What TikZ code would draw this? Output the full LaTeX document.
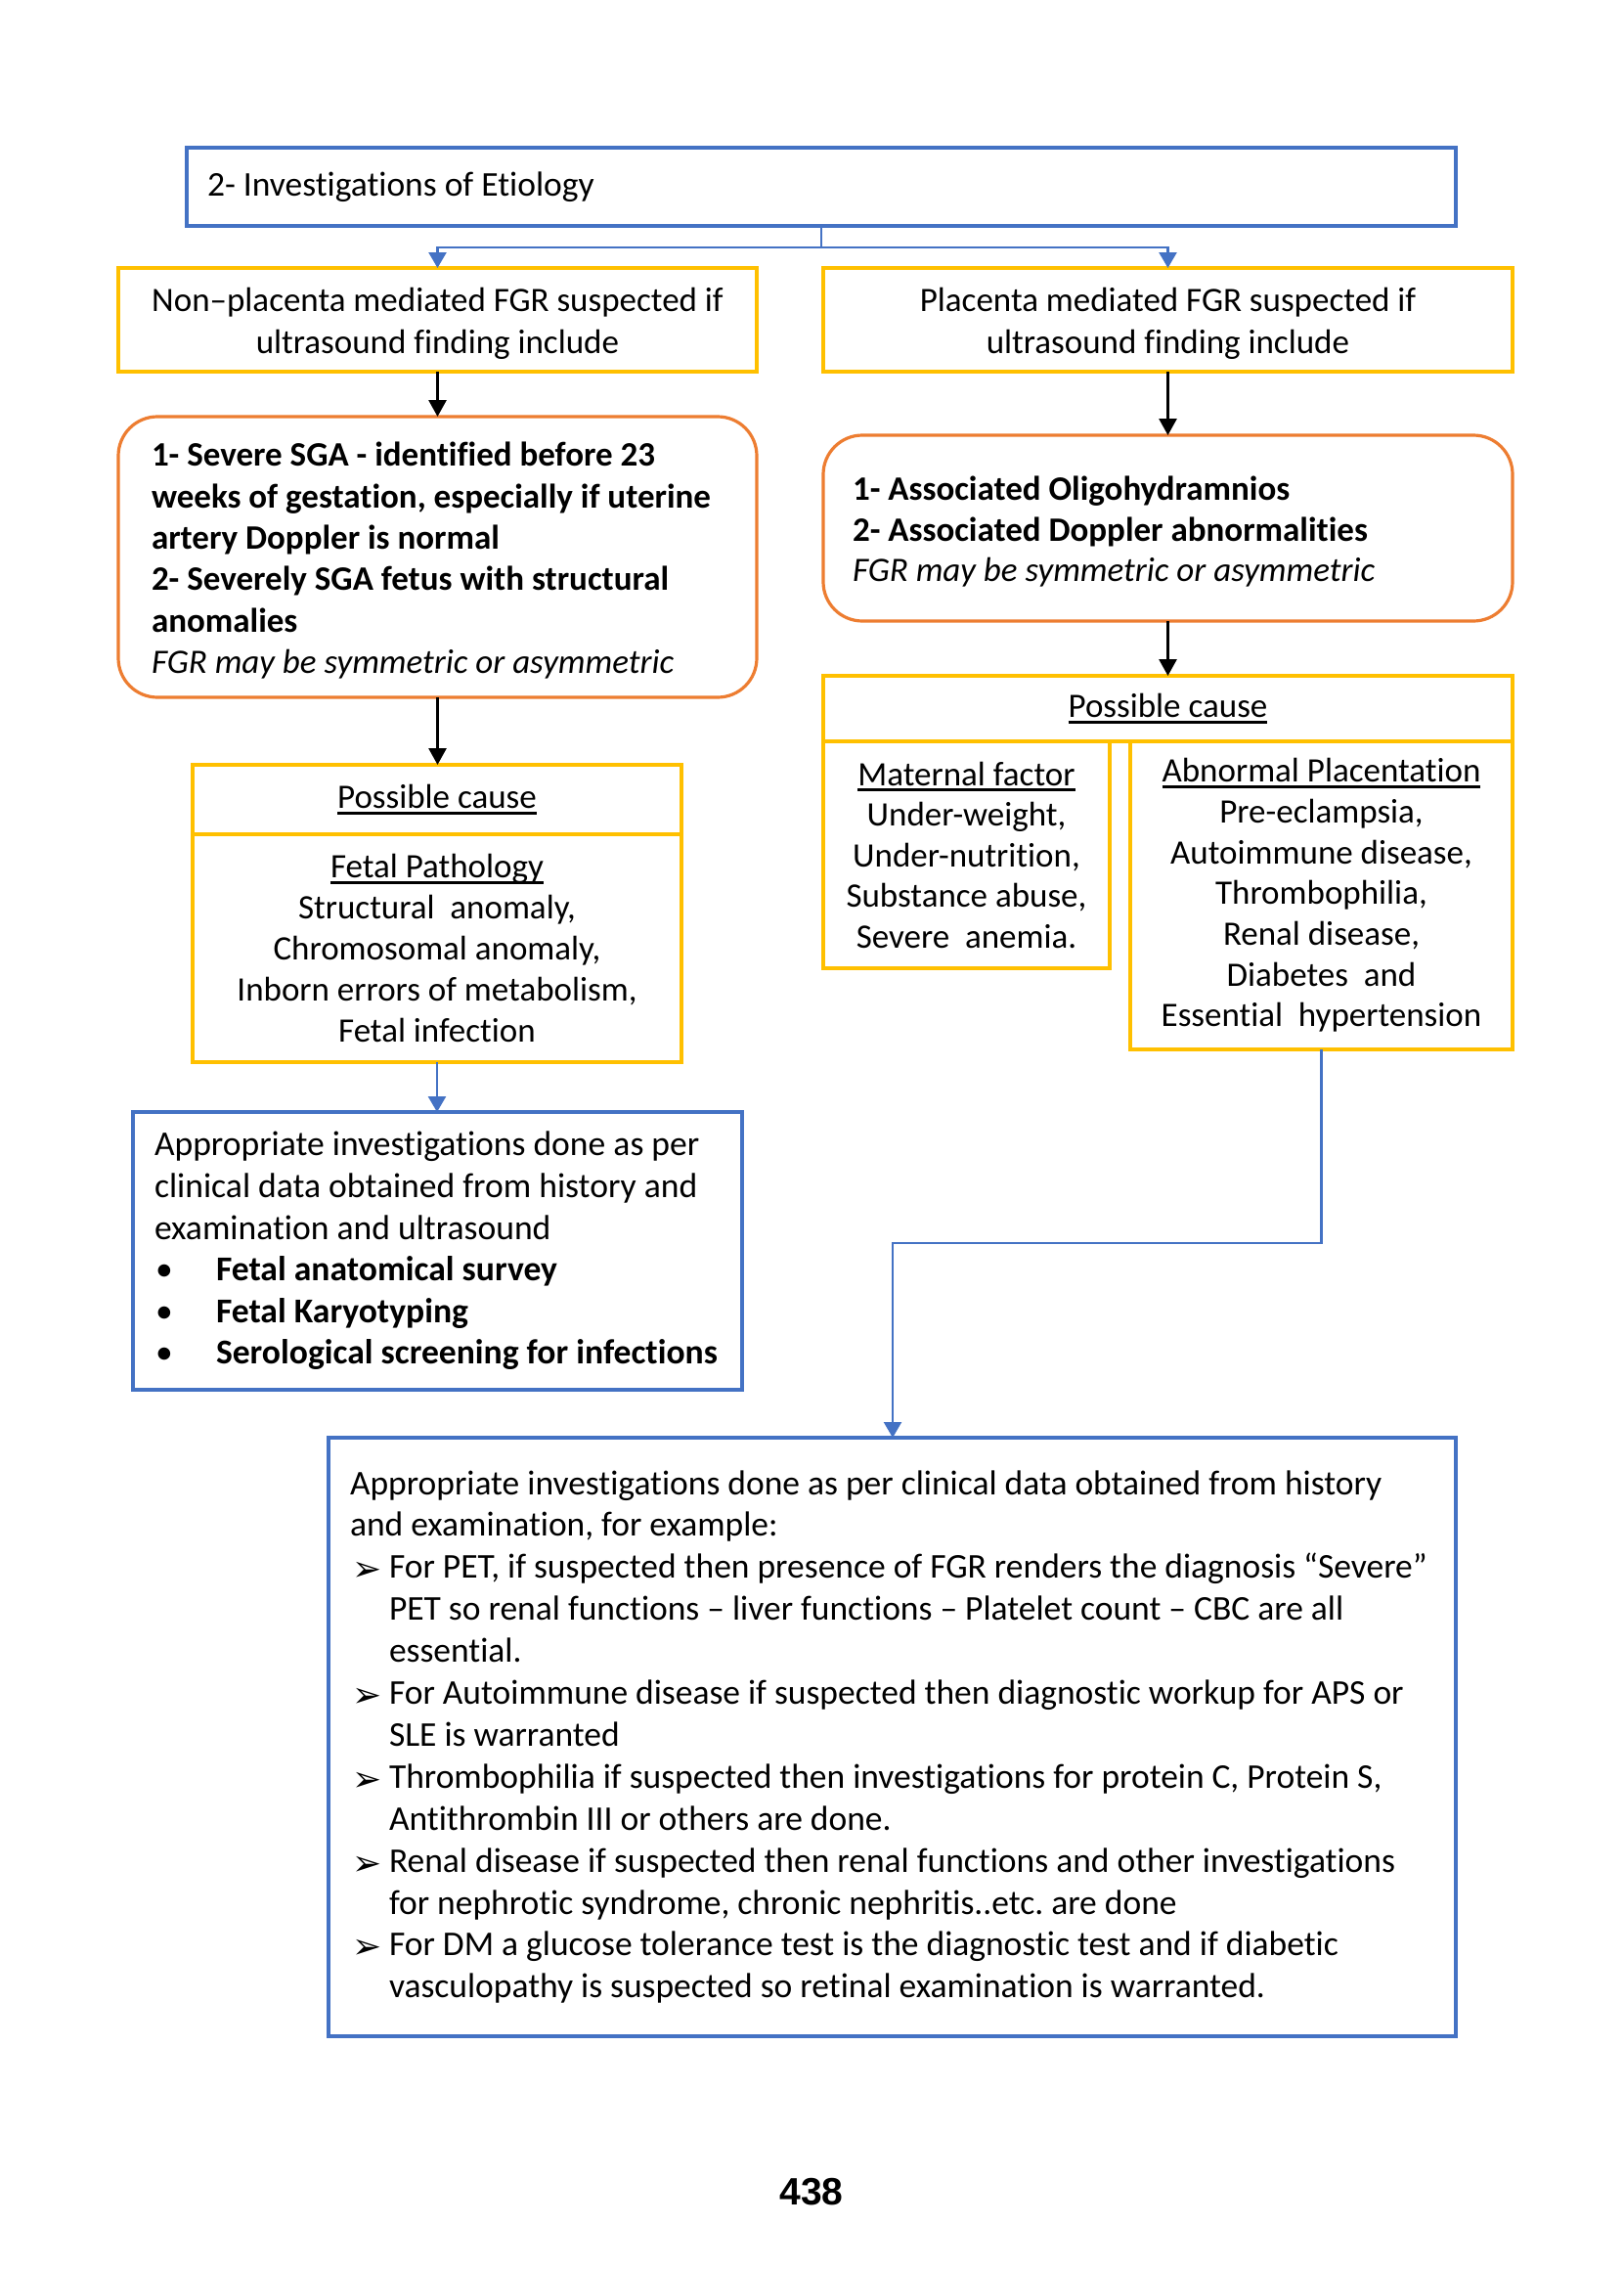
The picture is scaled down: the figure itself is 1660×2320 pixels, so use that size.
\documentclass[tikz,border=0pt]{standalone}
\usepackage{fontspec}
\setmainfont{Carlito}[Ligatures=CommonOff]
\newfontfamily\dejavu{DejaVu Sans}
\newfontfamily\arialf{Liberation Sans}
\usetikzlibrary{arrows.meta}
\definecolor{cblue}{HTML}{4472C4}
\definecolor{cgold}{HTML}{FFC000}
\definecolor{corange}{HTML}{ED7D31}
\frenchspacing
\newcommand\ulx[1]{\setbox0=\hbox{#1}\leavevmode\rlap{\rule[-6pt]{\wd0}{2.6pt}}\box0}
\newcommand\arr{\makebox[40pt][l]{\hspace*{2pt}\raisebox{-3pt}{\dejavu\fontsize{36}{36}\selectfont ➢}}}
\newcommand\ind{\hspace*{40pt}}
\newcommand\bul{\makebox[63pt][l]{\hspace*{1pt}•}}
\newcommand\dn{\rule{0pt}{32pt}}
\newcommand\ns{\spaceskip=0pt\xspaceskip=0pt\relax}
\tikzset{
  base/.style={font=\fontsize{35}{42.7}\selectfont, inner ysep=0pt, outer sep=0pt, rectangle},
  bluebox/.style={base, draw=cblue, line width=3.2pt},
  goldbox/.style={base, draw=cgold, line width=3.2pt},
  orangebox/.style={base, draw=corange, line width=3.2pt, rounded corners=40pt},
  bconn/.style={draw=cblue, line width=2.5pt, -{Triangle[length=16pt,width=18pt]}},
  kconn/.style={draw=black, line width=2.8pt, -{Triangle[length=17pt,width=18pt]}},
}
\begin{document}
\begin{tikzpicture}[x=1pt,y=-1pt]
\fill[white] (0,0) rectangle (1660,2320);
\useasboundingbox (0,0) rectangle (1660,2320);

% top box
\node[bluebox, align=left, text width=1256pt, inner xsep=21pt, minimum width=1298pt, minimum height=80pt, font=\fontsize{35.5}{43}\selectfont] (top) at (840,191) {\ns\mbox{2- Investigations of Etiology}};

% second row
\node[goldbox, align=center, inner xsep=10pt, minimum width=653pt, minimum height=106pt] (ly) at (447.5,327)
 {\dn Non–placenta mediated FGR suspected if\\ultrasound finding include};
\node[goldbox, align=center, inner xsep=10pt, minimum width=705pt, minimum height=106pt] (ry) at (1194.5,327)
 {\dn Placenta mediated FGR suspected if\\ultrasound finding include};

% orange boxes
\node[orangebox, align=left, text width=585pt, inner xsep=34pt, minimum width=653pt, minimum height=287pt, font=\fontsize{35}{42.4}\selectfont] (lo) at (447.5,569.5)
 {\ns\mbox{\dn\textbf{1- Severe SGA - identified before 23}}\\
  \mbox{\textbf{weeks of gestation, especially if uterine}}\\
  \mbox{\textbf{artery Doppler is normal}}\\
  \mbox{\textbf{2- Severely SGA fetus with structural}}\\
  \mbox{\textbf{anomalies}}\\
  \mbox{\textit{FGR may be symmetric or asymmetric}}};
\node[orangebox, align=left, text width=645pt, inner xsep=30pt, minimum width=705pt, minimum height=190pt, font=\fontsize{35}{41.5}\selectfont] (ro) at (1194.5,540)
 {\ns\mbox{\dn\textbf{1- Associated Oligohydramnios}}\\
  \mbox{\textbf{2- Associated Doppler abnormalities}}\\
  \mbox{\textit{FGR may be symmetric or asymmetric}}};

% left possible cause
\node[goldbox, align=center, inner xsep=8pt, minimum width=500pt, minimum height=71pt] (lch) at (447,817.5) {\ulx{Possible cause}};
\node[goldbox, align=center, inner xsep=8pt, minimum width=500pt, minimum height=233pt, font=\fontsize{35}{42}\selectfont] (lcb) at (447,969.5)
 {\ulx{Fetal Pathology}\\Structural\ \ anomaly,\\Chromosomal anomaly,\\Inborn errors of metabolism,\\Fetal infection};

% right possible cause
\node[goldbox, align=center, inner xsep=8pt, minimum width=705pt, minimum height=67pt] (rch) at (1194.5,724.5) {\ulx{Possible cause}};
\node[goldbox, align=center, inner xsep=4pt, minimum width=293pt, minimum height=232pt, font=\fontsize{35}{41.5}\selectfont] (mat) at (988.5,874)
 {\ulx{Maternal factor}\\Under-weight,\\Under-nutrition,\\Substance abuse,\\Severe\ \ anemia.};
\node[goldbox, align=center, inner xsep=4pt, minimum width=391pt, minimum height=315pt, font=\fontsize{35}{41.7}\selectfont] (abn) at (1351.5,915.5)
 {\ulx{Abnormal Placentation}\\Pre-eclampsia,\\Autoimmune disease,\\Thrombophilia,\\Renal disease,\\Diabetes\ \ and\\Essential\ \ hypertension};

% left blue box
\node[bluebox, align=left, text width=579pt, inner xsep=22pt, minimum width=623pt, minimum height=284pt, font=\fontsize{35.6}{42.6}\selectfont] (lbl) at (447.5,1279)
 {\ns\mbox{Appropriate investigations done as per}\\
  \mbox{clinical data obtained from history and}\\
  \mbox{examination and ultrasound}\\
  \mbox{\bul\textbf{Fetal anatomical survey}}\\
  \mbox{\bul\textbf{Fetal Karyotyping}}\\
  \mbox{\bul\textbf{Serological screening for infections}}};

% big bottom box
\node[bluebox, align=left, text width=1109pt, inner xsep=22pt, minimum width=1153pt, minimum height=612pt, font=\fontsize{35.5}{42.9}\selectfont] (big) at (912.5,1776)
 {\ns\mbox{Appropriate investigations done as per clinical data obtained from history}\\
  \mbox{and examination, for example:}\\
  \mbox{\arr For PET, if suspected then presence of FGR renders the diagnosis “Severe”}\\
  \mbox{\ind PET so renal functions – liver functions – Platelet count – CBC are all}\\
  \mbox{\ind essential.}\\
  \mbox{\arr For Autoimmune disease if suspected then diagnostic workup for APS or}\\
  \mbox{\ind SLE is warranted}\\
  \mbox{\arr Thrombophilia if suspected then investigations for protein C, Protein S,}\\
  \mbox{\ind Antithrombin III or others are done.}\\
  \mbox{\arr Renal disease if suspected then renal functions and other investigations}\\
  \mbox{\ind for nephrotic syndrome, chronic nephritis..etc. are done}\\
  \mbox{\arr For DM a glucose tolerance test is the diagnostic test and if diabetic}\\
  \mbox{\ind vasculopathy is suspected so retinal examination is warranted.}};

% page number
\node[font=\arialf\bfseries\fontsize{39}{45}\selectfont, inner sep=0pt] (pg) at (830,2241) {438};

% connectors
\coordinate (split) at (840,253);
\draw[bconn] (top.south) -- (split) -| (ly.north);
\draw[bconn] (split) -| (ry.north);
\draw[kconn] (ly.south) -- (lo.north);
\draw[kconn] (ry.south) -- (ro.north);
\draw[kconn] (lo.south) -- (lo.south |- lch.north);
\draw[kconn] (ro.south) -- (rch.north);
\draw[bconn] (lcb.south) -- (lcb.south |- lbl.north);
\coordinate (elbow) at (913,1271);
\draw[bconn] (abn.south) |- (elbow) -- (elbow |- big.north);
\end{tikzpicture}
\end{document}
